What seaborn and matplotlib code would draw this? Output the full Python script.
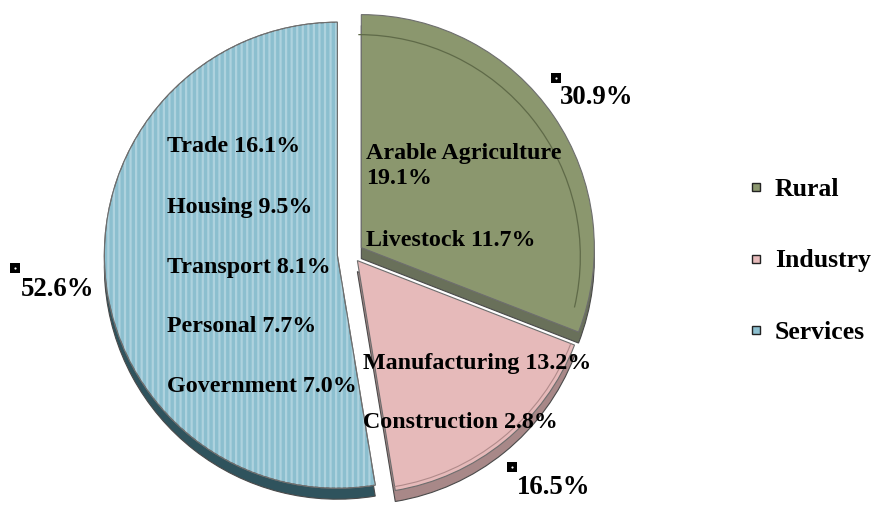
import matplotlib
matplotlib.use("Agg")
import matplotlib.pyplot as plt
import seaborn as sns
from matplotlib.lines import Line2D
from matplotlib.patches import Wedge, Arc

# ---------------- data ----------------
sectors = ["Rural", "Industry", "Services"]
shares = [30.9, 16.5, 52.6]

rural_names = ["Arable Agriculture\n", "Livestock "]
rural_values = [19.1, 11.7]
industry_names = ["Manufacturing ", "Construction "]
industry_values = [13.2, 2.8]
services_names = ["Trade ", "Housing ", "Transport ", "Personal ", "Government "]
services_values = [16.1, 9.5, 8.1, 7.7, 7.0]

# ---------------- style ----------------
sns.set_theme(style="white")
plt.rcParams["font.family"] = ["Liberation Serif", "DejaVu Serif"]
plt.rcParams["text.color"] = "black"
plt.rcParams["hatch.linewidth"] = 1.6

face_colors = ["#8b976e", "#e6baba", "#8cbfcf"]
side_colors = ["#69705a", "#a88888", "#2f535d"]
stripe_color = "#aed2de"

W, H = 876, 508
fig = plt.figure(figsize=(W / 100, H / 100), dpi=100)
ax = fig.add_axes([0, 0, 1, 1])

cx, cy, R = 352, H - 254, 233
explode = [11.3, 8.5, 14.7]
depth = 11

# side (3D thickness)
ax.pie(shares, explode=explode, startangle=90, counterclock=False, radius=R,
       center=(cx, cy - depth), colors=side_colors, frame=True,
       wedgeprops=dict(linewidth=0.8, edgecolor="#4a4a4a"))
# top faces
wedges, _ = ax.pie(shares, explode=explode, startangle=90, counterclock=False,
                   radius=R, center=(cx, cy), colors=face_colors, frame=True,
                   wedgeprops=dict(linewidth=0.8, edgecolor="#6e6e6e"))

# stripes on services
ws = wedges[2]
ax.add_patch(Wedge(ws.center, ws.r, ws.theta1, ws.theta2, facecolor="none",
                   edgecolor=stripe_color, hatch="|||", linewidth=0, zorder=ws.get_zorder() + 0.1))
ax.add_patch(Wedge(ws.center, ws.r, ws.theta1, ws.theta2, facecolor="none",
                   edgecolor="#6e6e6e", linewidth=0.8, zorder=ws.get_zorder() + 0.2))

# bevel lines
wr = wedges[0]
ax.add_patch(Arc((wr.center[0] - 3, wr.center[1] - 9), 2 * (wr.r - 11), 2 * (wr.r - 11),
                 theta1=wr.theta1 + 8, theta2=wr.theta2, color="#5f6a48", linewidth=0.9,
                 zorder=wr.get_zorder() + 0.1))
wi = wedges[1]
ax.add_patch(Arc((wi.center[0], wi.center[1]), 2 * (wi.r - 4), 2 * (wi.r - 4),
                 theta1=wi.theta1, theta2=wi.theta2, color="#b08a8a", linewidth=0.8,
                 zorder=wi.get_zorder() + 0.1))

ax.set_xlim(0, W)
ax.set_ylim(0, H)
ax.set_aspect("equal")
ax.axis("off")

inner = dict(fontsize=17.3, fontweight="bold", ha="left", va="center", color="black", zorder=10)
pct = dict(fontsize=19.3, fontweight="bold", ha="left", va="center", color="black", zorder=10)

# services sub-labels
for i, (n, v) in enumerate(zip(services_names, services_values)):
    ax.text(167, H - (147 + 60 * i), f"{n}{v:.1f}%", **inner)
# rural sub-labels
ax.text(366, H - 166, f"{rural_names[0]}{rural_values[0]:.1f}%", linespacing=1.3, **inner)
ax.text(366, H - 240, f"{rural_names[1]}{rural_values[1]:.1f}%", **inner)
# industry sub-labels
ax.text(363, H - 363, f"{industry_names[0]}{industry_values[0]:.1f}%", **inner)
ax.text(363, H - 423, f"{industry_names[1]}{industry_values[1]:.1f}%", **inner)

# outer percentage labels with legend keys
pct_pos = [(560, 98), (517, 487), (21, 290)]
key_pos = [(556, 78), (512, 467), (15, 268)]
for s, (tx, ty), (kx, ky) in zip(shares, pct_pos, key_pos):
    ax.text(tx, H - ty, f"{s:.1f}%", **pct)
    ax.scatter([kx], [H - ky], marker="s", s=55, color="black", linewidths=0, zorder=11)
    ax.scatter([kx], [H - ky], marker="o", s=2.5, color="white", linewidths=0, zorder=12)

# legend
handles = [Line2D([], [], marker="s", ls="none", markersize=6, markerfacecolor=c,
                  markeredgecolor="#222222", markeredgewidth=1.0) for c in face_colors]
leg = ax.legend(handles, sectors, loc="center left", bbox_to_anchor=(748 / W, 1 - 261 / H),
                frameon=False, prop=dict(family="Liberation Serif", weight="bold", size=18.5),
                labelspacing=1.9, handlelength=0.6, handletextpad=0.45, borderaxespad=0,
                borderpad=0, labelcolor="black")

fig.savefig("out.png", dpi=100)
